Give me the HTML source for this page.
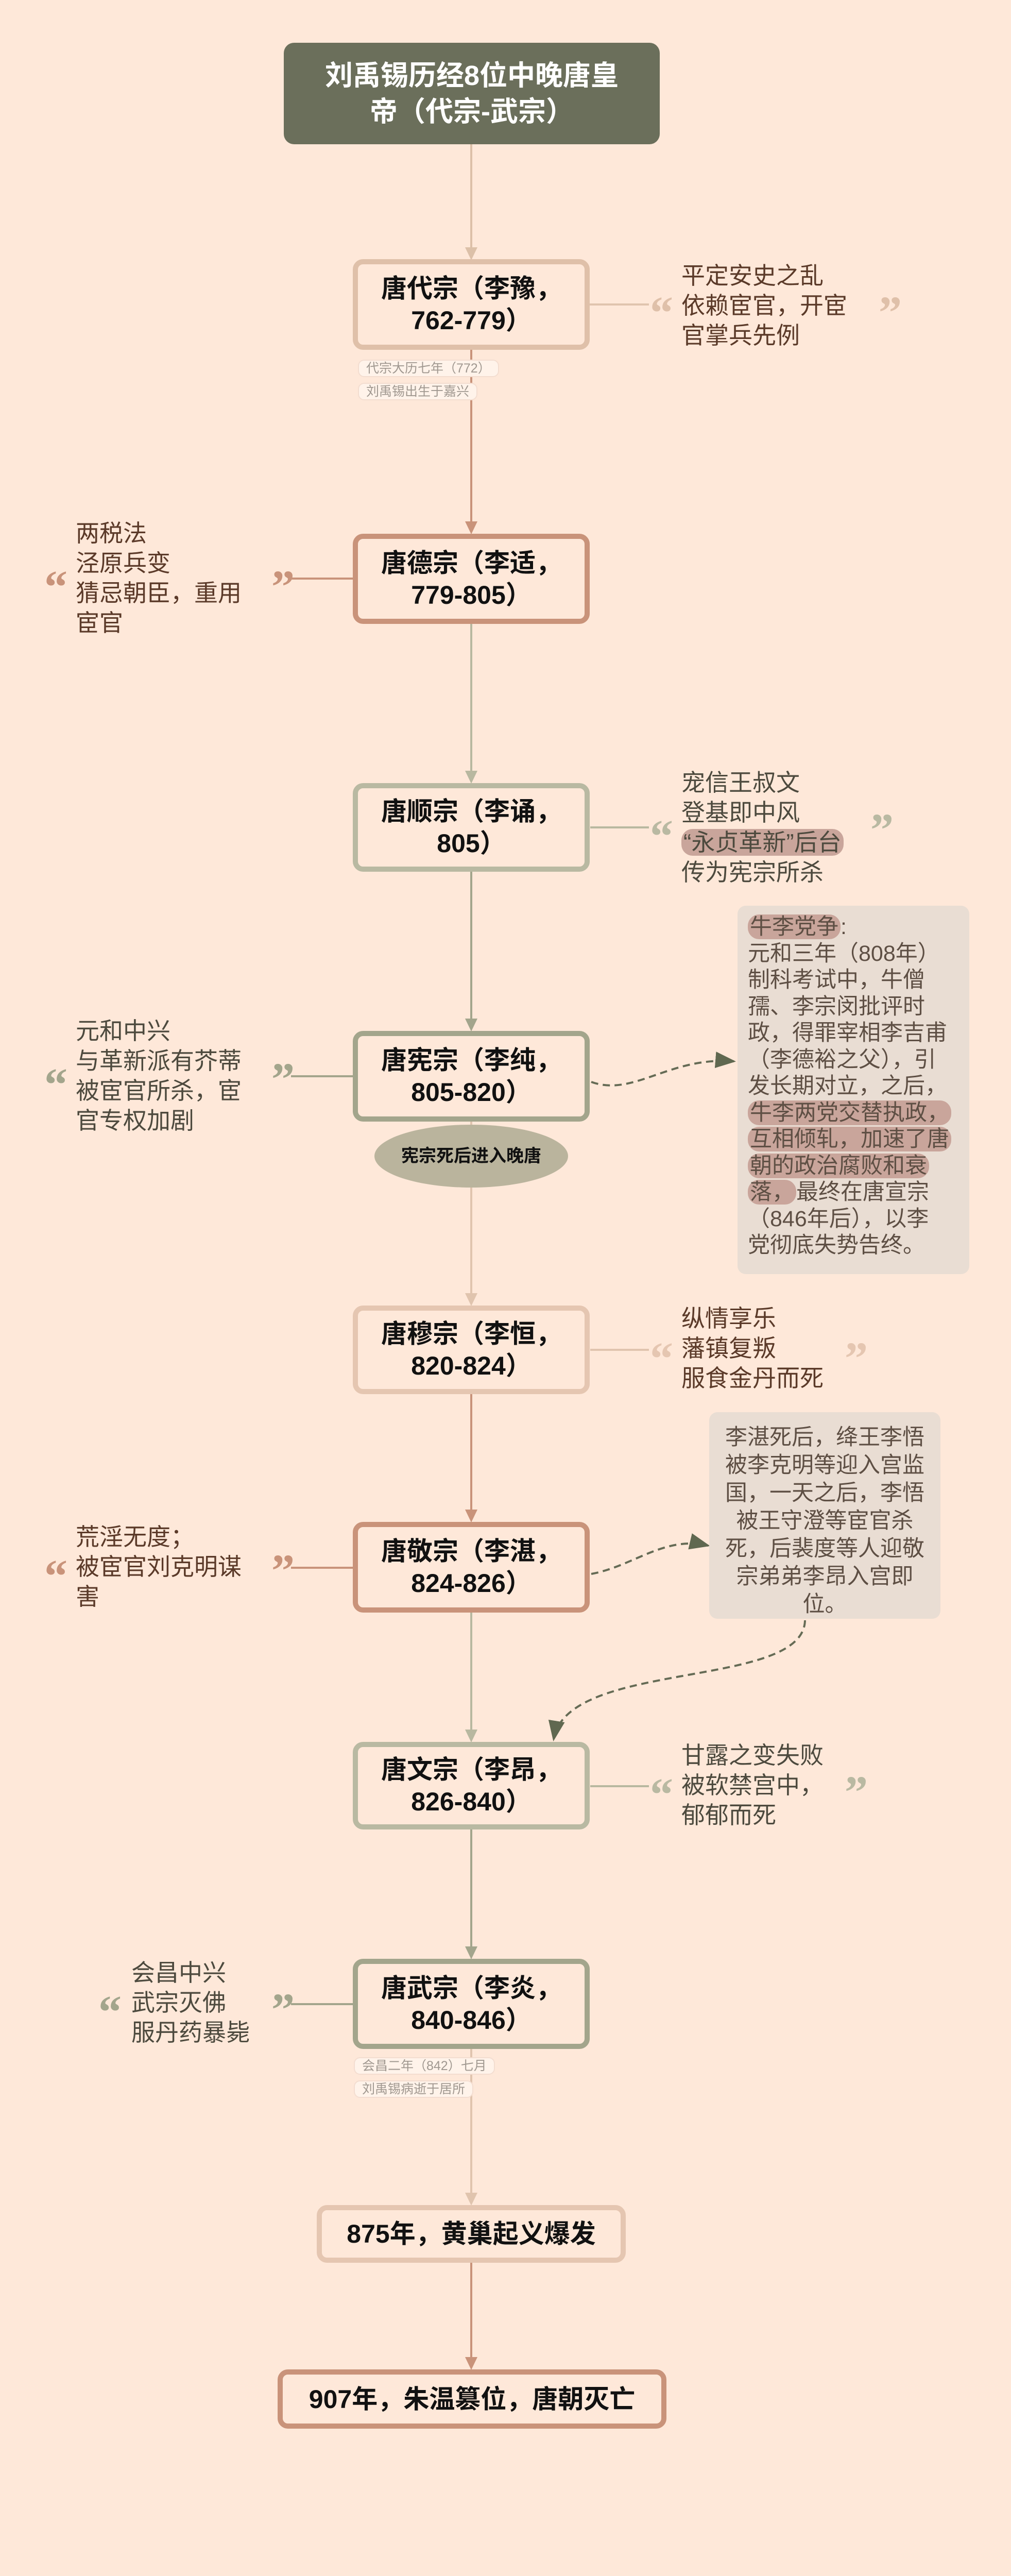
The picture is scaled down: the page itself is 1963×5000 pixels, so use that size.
<!DOCTYPE html>
<html><head><meta charset="utf-8">
<style>
*{margin:0;padding:0;box-sizing:border-box}
body{width:1963px;height:5000px;background:#fee8d9;position:relative;overflow:hidden;font-family:"Liberation Sans","Noto Sans CJK SC",sans-serif}
.abs{position:absolute}
.node{position:absolute;border:10px solid;border-radius:20px;background:#fee8d9;display:flex;align-items:center;justify-content:center;text-align:center;font-weight:bold;font-size:50px;line-height:62px;color:#111}
.ann{position:absolute;font-size:46px;line-height:58px;white-space:nowrap}
.q{position:absolute;font-size:90px;font-family:"Liberation Serif",serif;font-weight:bold;line-height:80px}
.tag{position:absolute;height:34px;border:2px solid #f3ddd0;background:#fff3ea;border-radius:12px;font-size:25px;line-height:30px;color:#a09890;padding:0 14px;white-space:nowrap}
.note{position:absolute;background:#e9ddd3;border-radius:16px;font-size:43px;color:#5e4f44}
.hl{background:#c9a59b;border-radius:22px;padding:0 4px}
</style></head><body>
<svg class="abs" style="left:0;top:0" width="1963" height="5000">
<defs>
<marker id="m1" markerWidth="10" markerHeight="10" refX="9" refY="5" orient="auto"><path d="M0,1 L10,5 L0,9z" fill="#606850"/></marker>
</defs>
<g stroke-width="4" fill="none">
<line x1="915" y1="280" x2="915" y2="480" stroke="#dcc0a8"/>
<line x1="915" y1="679" x2="915" y2="1012" stroke="#c9937a"/>
<line x1="915" y1="1211" x2="915" y2="1496" stroke="#b8b8a0"/>
<line x1="915" y1="1692" x2="915" y2="1977" stroke="#a3a58c"/>
<line x1="915" y1="2177" x2="915" y2="2510" stroke="#e0c4ae"/>
<line x1="915" y1="2706" x2="915" y2="2930" stroke="#c9937a"/>
<line x1="915" y1="3130" x2="915" y2="3357" stroke="#b8b8a0"/>
<line x1="915" y1="3551" x2="915" y2="3778" stroke="#a3a58c"/>
<line x1="915" y1="3977" x2="915" y2="4256" stroke="#e0c4ae"/>
<line x1="915" y1="4392" x2="915" y2="4575" stroke="#c9937a"/>
<line x1="1144" y1="591" x2="1260" y2="591" stroke="#e0c4ae"/>
<line x1="565" y1="1123" x2="685" y2="1123" stroke="#c9937a"/>
<line x1="1146" y1="1606" x2="1260" y2="1606" stroke="#b8b8a0"/>
<line x1="565" y1="2089" x2="685" y2="2089" stroke="#a3a58c"/>
<line x1="1146" y1="2620" x2="1260" y2="2620" stroke="#e0c4ae"/>
<line x1="565" y1="3043" x2="685" y2="3043" stroke="#c9937a"/>
<line x1="1146" y1="3467" x2="1260" y2="3467" stroke="#b8b8a0"/>
<line x1="565" y1="3890" x2="685" y2="3890" stroke="#a3a58c"/>
</g>
<g>
<path d="M903,480 L927,480 L915,505z" fill="#dcc0a8"/>
<path d="M903,1012 L927,1012 L915,1037z" fill="#c9937a"/>
<path d="M903,1496 L927,1496 L915,1521z" fill="#b8b8a0"/>
<path d="M903,1977 L927,1977 L915,2002z" fill="#a3a58c"/>
<path d="M903,2510 L927,2510 L915,2535z" fill="#e0c4ae"/>
<path d="M903,2930 L927,2930 L915,2955z" fill="#c9937a"/>
<path d="M903,3357 L927,3357 L915,3382z" fill="#b8b8a0"/>
<path d="M903,3778 L927,3778 L915,3803z" fill="#a3a58c"/>
<path d="M903,4256 L927,4256 L915,4281z" fill="#e0c4ae"/>
<path d="M903,4575 L927,4575 L915,4600z" fill="#c9937a"/>
</g>
<g stroke="#656b55" stroke-width="4" stroke-dasharray="14,9" fill="none">
<path d="M1148,2100 C1230,2130 1300,2050 1425,2060" marker-end="url(#m1)"/>
<path d="M1148,3055 C1230,3040 1290,2980 1375,3000" marker-end="url(#m1)"/>
<path d="M1563,3145 C1560,3280 1100,3220 1075,3376" marker-end="url(#m1)"/>
</g>
<ellipse cx="915" cy="2244" rx="188" ry="61" fill="#bab49d"/>
</svg>

<div class="abs" style="left:551px;top:83px;width:730px;height:197px;background:#6b6f5b;border-radius:20px;color:#fff;font-weight:bold;font-size:54px;line-height:70px;display:flex;align-items:center;justify-content:center;text-align:center;padding:0 60px">刘禹锡历经8位中晚唐皇帝（代宗-武宗）</div>

<div class="node" style="left:685px;top:503px;width:460px;height:176px;border-color:#dfc0a9">唐代宗（李豫，<br>762-779）</div>
<div class="node" style="left:685px;top:1036px;width:460px;height:175px;border-color:#c9937a">唐德宗（李适，<br>779-805）</div>
<div class="node" style="left:685px;top:1520px;width:460px;height:172px;border-color:#b9b9a2">唐顺宗（李诵，<br>805）</div>
<div class="node" style="left:685px;top:2001px;width:460px;height:176px;border-color:#a3a58c">唐宪宗（李纯，<br>805-820）</div>
<div class="node" style="left:685px;top:2534px;width:460px;height:172px;border-color:#e5c6b1">唐穆宗（李恒，<br>820-824）</div>
<div class="node" style="left:685px;top:2954px;width:460px;height:176px;border-color:#c9937a">唐敬宗（李湛，<br>824-826）</div>
<div class="node" style="left:685px;top:3381px;width:460px;height:170px;border-color:#b9b9a2">唐文宗（李昂，<br>826-840）</div>
<div class="node" style="left:685px;top:3802px;width:460px;height:175px;border-color:#a3a58c">唐武宗（李炎，<br>840-846）</div>
<div class="node" style="left:615px;top:4280px;width:600px;height:112px;border-color:#e5c6b1">875年，黄巢起义爆发</div>
<div class="node" style="left:539px;top:4599px;width:755px;height:115px;border-color:#c9937a">907年，朱温篡位，唐朝灭亡</div>

<div class="abs" style="left:727px;top:2220px;width:376px;text-align:center;font-size:34px;line-height:48px;color:#111;font-weight:bold">宪宗死后进入晚唐</div>

<div class="tag" style="left:695px;top:698px">代宗大历七年（772）</div>
<div class="tag" style="left:695px;top:743px">刘禹锡出生于嘉兴</div>
<div class="tag" style="left:687px;top:3993px">会昌二年（842）七月</div>
<div class="tag" style="left:687px;top:4038px">刘禹锡病逝于居所</div>

<div class="q" style="left:1262px;top:568px;color:#dfc0a9">“</div>
<div class="ann" style="left:1323px;top:506px;color:#5b3a29">平定安史之乱<br>依赖宦官，开宦<br>官掌兵先例</div>
<div class="q" style="left:1706px;top:568px;color:#dfc0a9">”</div>

<div class="q" style="left:86px;top:1100px;color:#c9937a">“</div>
<div class="ann" style="left:147px;top:1006px;color:#5b3a29">两税法<br>泾原兵变<br>猜忌朝臣，重用<br>宦官</div>
<div class="q" style="left:527px;top:1100px;color:#c9937a">”</div>

<div class="q" style="left:1262px;top:1584px;color:#b9b9a2">“</div>
<div class="ann" style="left:1323px;top:1490px;color:#4d4a3e">宠信王叔文<br>登基即中风<br><span class="hl">“永贞革新”后台</span><br>传为宪宗所杀</div>
<div class="q" style="left:1690px;top:1572px;color:#b9b9a2">”</div>

<div class="q" style="left:86px;top:2066px;color:#a3a58c">“</div>
<div class="ann" style="left:147px;top:1972px;color:#4d4a3e">元和中兴<br>与革新派有芥蒂<br>被宦官所杀，宦<br>官专权加剧</div>
<div class="q" style="left:527px;top:2056px;color:#a3a58c">”</div>

<div class="q" style="left:1262px;top:2598px;color:#e5c6b1">“</div>
<div class="ann" style="left:1323px;top:2530px;color:#5b3a29">纵情享乐<br>藩镇复叛<br>服食金丹而死</div>
<div class="q" style="left:1640px;top:2598px;color:#e5c6b1">”</div>

<div class="q" style="left:86px;top:3020px;color:#c9937a">“</div>
<div class="ann" style="left:147px;top:2954px;color:#5b3a29">荒淫无度；<br>被宦官刘克明谋<br>害</div>
<div class="q" style="left:527px;top:3010px;color:#c9937a">”</div>

<div class="q" style="left:1262px;top:3444px;color:#b9b9a2">“</div>
<div class="ann" style="left:1323px;top:3378px;color:#4d4a3e">甘露之变失败<br>被软禁宫中，<br>郁郁而死</div>
<div class="q" style="left:1640px;top:3440px;color:#b9b9a2">”</div>

<div class="q" style="left:191px;top:3866px;color:#a3a58c">“</div>
<div class="ann" style="left:255px;top:3800px;color:#4d4a3e">会昌中兴<br>武宗灭佛<br>服丹药暴毙</div>
<div class="q" style="left:527px;top:3862px;color:#a3a58c">”</div>

<div class="note" style="left:1432px;top:1758px;width:450px;height:715px;padding:16px 10px 0 20px;line-height:51.5px">
<span class="hl">牛李党争</span>:<br>元和三年（808年）<br>制科考试中，牛僧<br>孺、李宗闵批评时<br>政，得罪宰相李吉甫<br>（李德裕之父），引<br>发长期对立，之后，<br><span class="hl">牛李两党交替执政，</span><br><span class="hl">互相倾轧，加速了唐</span><br><span class="hl">朝的政治腐败和衰</span><br><span class="hl">落，</span>最终在唐宣宗<br>（846年后），以李<br>党彻底失势告终。</div>

<div class="note" style="left:1377px;top:2741px;width:449px;height:401px;padding:22px 10px 0 10px;text-align:center;line-height:54px">李湛死后，绛王李悟<br>被李克明等迎入宫监<br>国，一天之后，李悟<br>被王守澄等宦官杀<br>死，后裴度等人迎敬<br>宗弟弟李昂入宫即<br>位。</div>
</body></html>
